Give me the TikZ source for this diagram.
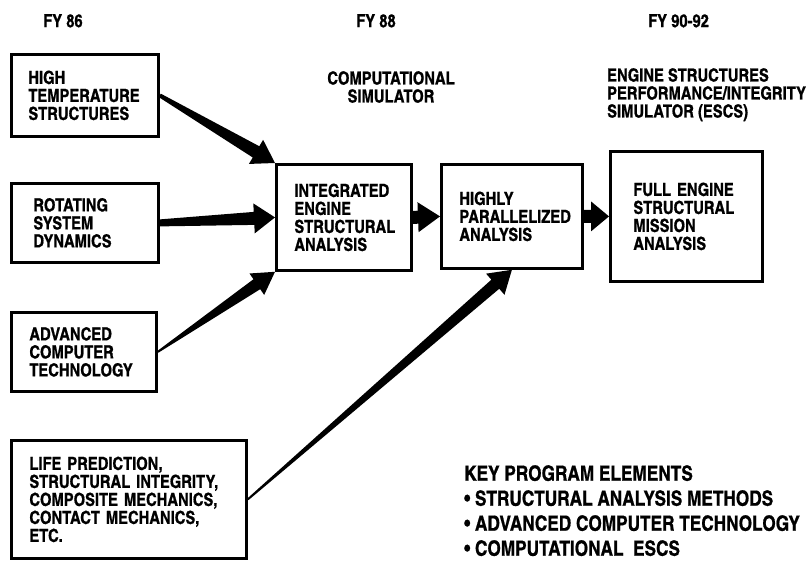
\documentclass[tikz,border=0pt]{standalone}
\usepackage{fontspec}
\setmainfont{texgyreheroscn-bold.otf}[FakeBold=0.8]
\usetikzlibrary{calc}

\newcommand{\boxfont}{\fontsize{18}{18}\selectfont}
\newcommand{\keyfont}{\fontsize{21}{25}\selectfont}

% tapered arrow: start, tip, start half width, neck half width, head half width, head length
\newcommand{\fatarrow}[6]{%
  \coordinate (neck) at ($(#2)!#6!(#1)$);
  \fill ($(#1)!#3!90:(#2)$) -- ($(neck)!#4!90:(#2)$) -- ($(neck)!#5!90:(#2)$) -- (#2)
    -- ($(neck)!#5!-90:(#2)$) -- ($(neck)!#4!-90:(#2)$) -- ($(#1)!#3!-90:(#2)$) -- cycle;
}

\begin{document}
\begin{tikzpicture}[x=1pt,y=-1pt,
    box/.style={draw,line width=2.8pt,anchor=north west,align=left,inner ysep=0pt,font=\boxfont},
    heading/.style={inner sep=0pt,font=\boxfont}]
  \useasboundingbox (0,0) rectangle (812,564);
  % headings
  \path
  (63,14) node[heading,anchor=north] (fy86) {FY 86}
  (376,14) node[heading,anchor=north] (fy88) {FY 88}
  (648,14) node[heading,anchor=north west] (fy90) {FY 90-92}
  (391,71) node[heading,anchor=north,align=center] (sim) {COMPUTATIONAL\\SIMULATOR}
  (607,68) node[heading,anchor=north west,align=left] (escs) {ENGINE STRUCTURES\\PERFORMANCE/INTEGRITY\\SIMULATOR (ESCS)}
  ;
  % boxes
  \node[box,inner xsep=17pt,text width=113pt,minimum height=82pt] (hts) at (10,53) {HIGH\\TEMPERATURE\\STRUCTURES};
  \node[box,inner xsep=22pt,text width=103pt,minimum height=79pt] (rsd) at (10,182) {ROTATING\\SYSTEM\\DYNAMICS};
  \node[box,inner xsep=18pt,text width=109pt,minimum height=79pt] (act) at (10,311) {ADVANCED\\COMPUTER\\TECHNOLOGY};
  \node[box,inner xsep=18pt,text width=199pt,minimum height=118pt] (life) at (10,439) {LIFE PREDICTION,\\STRUCTURAL INTEGRITY,\\COMPOSITE MECHANICS,\\CONTACT MECHANICS,\\ETC.};
  \node[box,inner xsep=18pt,text width=99pt,minimum height=106pt] (iesa) at (275,163) {INTEGRATED\\ENGINE\\STRUCTURAL\\ANALYSIS};
  \node[box,inner xsep=18pt,text width=105pt,minimum height=104pt] (hpa) at (440,163) {HIGHLY\\PARALLELIZED\\ANALYSIS};
  \node[box,inner xsep=23pt,text width=106pt,minimum height=130pt] (fesm) at (609,150) {FULL ENGINE\\STRUCTURAL\\MISSION\\ANALYSIS};
  % arrows
  \fatarrow{hts.east}{iesa.north west}{2pt}{6.5pt}{14pt}{22pt}
  \fatarrow{rsd.east}{iesa.west}{3.5pt}{6.5pt}{15pt}{21pt}
  \fatarrow{act.east}{iesa.south west}{1pt}{6pt}{13pt}{22pt}
  \fatarrow{life.east}{hpa.south}{1pt}{6pt}{14pt}{22pt}
  \fatarrow{iesa.east}{hpa.west}{6.5pt}{6.5pt}{15pt}{22pt}
  \fatarrow{hpa.east}{fesm.west}{6.5pt}{6.5pt}{15pt}{18pt}
  % key
  \node[heading,anchor=north west,align=left,font=\keyfont] (key) at (464,465)
  {KEY PROGRAM ELEMENTS\\
   \textbullet\ STRUCTURAL ANALYSIS METHODS\\
   \textbullet\ ADVANCED COMPUTER TECHNOLOGY\\
   \textbullet\ COMPUTATIONAL\ \ ESCS};
\end{tikzpicture}
\end{document}
